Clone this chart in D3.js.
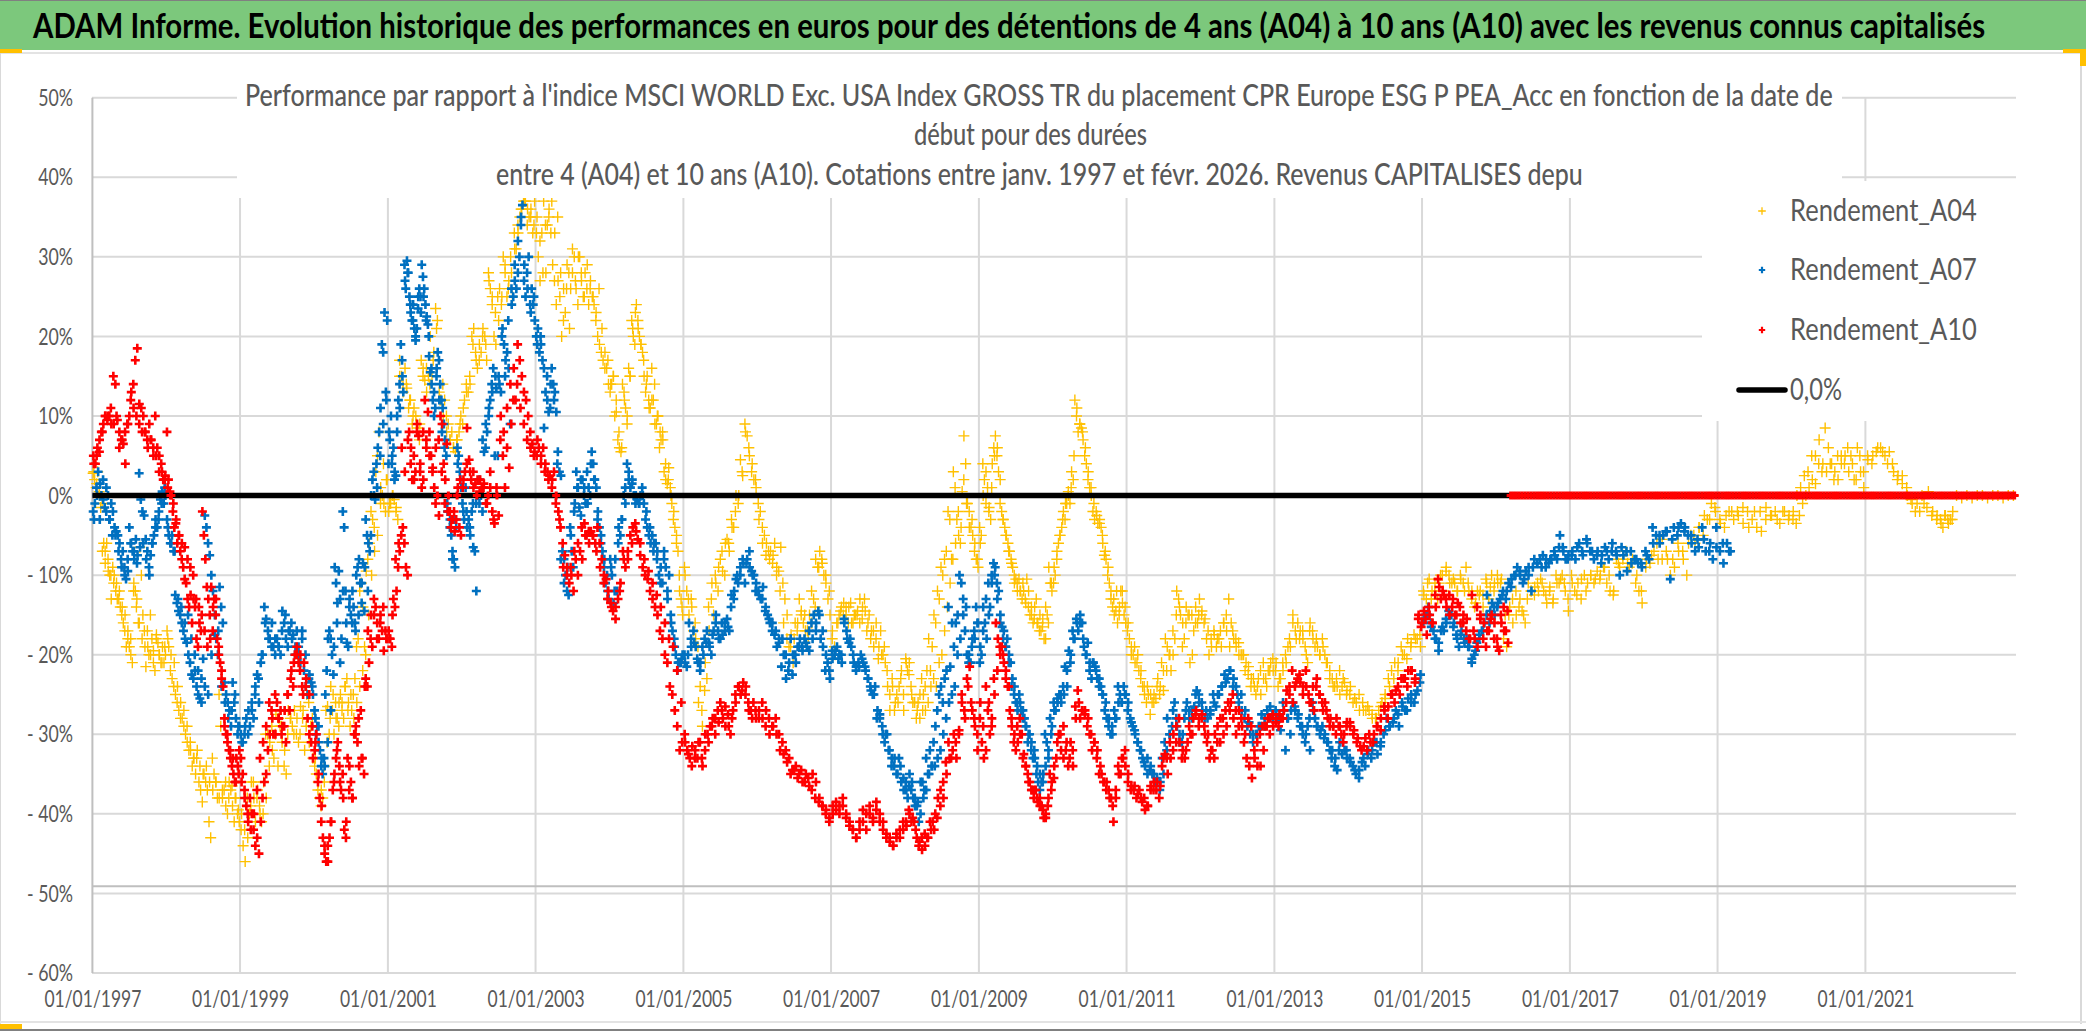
<!DOCTYPE html>
<html lang="fr"><head><meta charset="utf-8">
<script src="https://cdn.jsdelivr.net/npm/d3@7"></script>
<style>html,body{margin:0;padding:0;background:#fff}svg{display:block}text{font-family:Lato,"Noto Sans",sans-serif}</style>
</head><body><svg id="c" width="2086" height="1031"></svg>
<script>
const chartTitle="ADAM Informe. Evolution historique des performances en euros pour des détentions de 4 ans (A04) à 10 ans (A10) avec les revenus connus capitalisés";
const subtitleLines=["Performance par rapport à l'indice MSCI WORLD Exc. USA Index GROSS TR  du placement CPR Europe ESG P PEA_Acc en fonction de la date de","début pour des durées","entre 4 (A04) et 10 ans (A10). Cotations entre janv. 1997 et févr. 2026. Revenus CAPITALISES depu"];
const yTicks=[50,40,30,20,10,0,-10,-20,-30,-40,-50,-60];
const xTickYears=[1997,1999,2001,2003,2005,2007,2009,2011,2013,2015,2017,2019,2021];
const seriesNames=["Rendement_A04","Rendement_A07","Rendement_A10"];
const zeroLabel="0,0%";
const zeroLineSpan=[1997,2023.04];

// Each row holds the values read along one period, in time order.
const a04Starts=[1997,1998,1999,2000,2001,2002,2003,2004,2005,2006,2007,2008,2009,2010,2011,2012,2013,2014,2015,2016,2017,2018,2019,2020,2021,2022,2022.2,2023.04];
const a04Rows=[
[2.8,2,1,3,0.5,-1.5,-1,-6,-8.5,-6,-9.5,-10,-13,-9,-10,-12,-13,-13,-14,-15,-16,-17,-19,-18,-19,-20,-21,-11,-12,-13,-16,-6.5,-10,-15,-17,-21.5,-17,-20,-15,-18,-21,-22,-17.5,-18.5,-20,-21,-19,-21,-20],
[-17,-19,-22,-23,-24,-25,-26,-27,-28,-28,-29,-30,-31,-32,-32,-34,-33,-35,-32,-36,-37,-38.5,-35,-36,-37,-41,-43,-33,-35,-36,-38,-25,-29,-38,-37,-39,-40,-36,-37,-39,-41,-38,-40,-41],
[-42,-44,-46,-38,-40,-36,-36,-41,-37,-39,-41,-36,-30,-30,-31,-29,-33,-27.5,-34,-29,-31,-34,-35,-27,-28,-29,-27,-30,-31,-26.5,-28,-32,-25,-26,-29,-33],
[-34,-35,-37,-38,-39,-38,-36,-27,-26.5,-30,-24,-27,-30,-26,-28,-29,-25,-26,-28,-24,-23,-26,-29,-27,-25,-23,-19,-18,-12,-11,-14,-19,-9.5,-8,-6,-2,-3,-4,3,5,8,1,0,-1,-2,2],
[-2,-1,0,-0.5,-2,-3,17,15,13,16,13.5,11,12,9,11,10,8.5,7,17,15,14.5,13,15,20,15,18,23.5,22,13,12,14,12,10,9,7,8,6,5.5,7,8,10],
[9,12,14,13,14,20,21,18,16,17,18,21,20,17,28,26,24,20,19,25,26,24,30,28,25,27,30,25,33,31,33,35,36,37,37,34,35,36,33,37],
[33,30,27,33,37,34,34,36,33,29,27,24,27,25,20,22,23,29,28,26,31,30,26,24,30,27,25,28,26,24,27,25,24,22,20,19,18,17,16,16,14],
[13,14,15,10,10.5,7,6,5.5,14,13,11,9,16,15,22,20,19,24,22,20,19,18,15,13,15,12,11,16,12,9,9,10,6,7,8,3,2,1.5,3.5,1,-1,-3,-4,-6,-7,-12,-13,-15],
[-9,-12,-15,-13,-17,-18,-19,-24,-29,-24.5,-23,-17,-13,-15,-11,-12,-8,-9.5,-10,-5.5,-7,-3,-4,0,-1,4.5,2.5,9,7.5,5,3,2,1],
[-1,-2,-4,-5,-6,-7,-7,-8.5,-6,-9,-9.5,-6.5,-11,-13,-18,-19,-17.5,-21,-16,-17,-13,-14.5,-16,-17,-17,-15,-12,-13,-8,-9,-7,-8,-10,-11,-13,-15],
[-18,-19,-16,-15,-14,-13.5,-15,-16,-13.5,-16,-15,-14.5,-13,-15.5,-13,-17,-15,-17,-19,-18,-20.5,-17,-20,-21,-24,-27,-23,-27,-25,-24,-22,-27],
[-20.5,-22,-21,-24,-26,-26,-28,-26,-28,-23,-25,-24,-22,-18,-22,-19,-15,-16,-12,-13,-9,-10,-8,-7,-2,-3,-8,3,1,-3,-5,-6,0.5,7.5,4,-1,-2,-4,-5,-7,-8,-9],
[-4,-5,4,2,-1,1,-1.5,-3,4,6,7.5,5,3,-1,-2,-3,-4,-5,-6,-7,-8,-9,-10,-10.5,-12,-10.5,-12,-13,-12,-13,-10.5,-14,-15,-15,-16,-14,-13,-16,-17,-17,-16.5,-18,-14,-15,-9,-11,-12],
[-11,-10,-8,-6,-5,-4,-2,-3,-1,0.5,-1,3,2,12,10,8,9,8.5,7,5,4,2,1,0,-2,-3,-2,-3.5,-3.5,-4,-6,-7.5,-8,-10,-11,-13,-14,-15,-14.5,-16,-15,-12,-13.5,-15,-16],
[-17,-18,-20,-20,-21,-21,-22,-23,-24,-25,-26,-25,-27.5,-26,-25,-25.5,-23,-25,-21,-22,-18,-19,-20,-22,-17,-18,-12,-13,-15,-19,-18,-14,-15,-21,-15,-17,-14,-16,-13],
[-15,-16,-18,-20,-19,-17,-19,-18,-19,-16,-15,-13,-16,-18,-19,-18.5,-20,-20,-21,-21.5,-24,-23,-25,-23,-25,-21,-23,-22,-21,-22],
[-22,-24,-23,-22,-20,-19,-19,-15,-17,-16,-17,-17,-19,-21,-16,-17,-19,-19,-20,-18,-20,-21,-23,-23,-24,-24,-22,-24,-23.5,-24.5],
[-25,-26,-26,-27,-26,-27,-27,-28,-28,-27,-26,-25.5,-23,-22,-21,-22,-19,-20,-18,-19,-17.5,-18,-19],
[-12,-13,-10.5,-12,-12,-13,-10,-12,-9,-10,-11,-11,-12,-10,-11,-9,-12,-13,-14,-12,-12,-14,-10.5,-13,-10,-11],
[-10,-11,-18,-19,-14,-16,-12,-14,-14.5,-16,-11,-12,-12.5,-11,-10.5,-12,-13.5,-11.5,-13.5,-10,-11,-10,-12,-14.5],
[-10,-12,-11,-13,-10,-11,-10,-11,-9.5,-10,-9,-11,-12,-12.5,-8,-9,-8,-7,-9,-8,-11,-12,-13.5],
[-9,-8.5,-7,-8,-5.5,-7,-10,-9,-7,-7,-10,-5,-6,-4,-5,-3,-1,-2],
[-3,-4,-2,-3,-2.5,-1.5,-2,-3,-4,-4.5,-1.5,-2.5,-2,-3.5,-2,-2.5],
[-3,-3.5,-2.5,-1,0,1,2,1.5,4,3,8.5,6,4,3,2,5,4,6,5,2,6,3,1],
[5,4,5.5,6,5,5.5,3,2.5,2.5,1,-0.5,-2,-2,-1,0.5,-2,-2.5],
[-3,-4,-2.5,-3,-3,-2],
[0,-0.3,0,-0.3,0,0,-0.3,0,0,-0.3,0,0]
];
const a04More=[
[3,1.5,0,-7,-7,-8,-10,-11,-11,-12,-14,-15,-17,-18,-12,-14,-16,-18,-19,-19,-20,-19.5,-18,-20,-21,-19],
[-18,-20,-21,-24,-26,-27,-29,-31,-33,-33,-34,-35,-34,-36,-37,-36,-38,-37,-36,-38,-36.5,-38,-39.5],
[-40,-42,-43,-39,-38,-38,-40,-40,-38,-34,-32,-30,-28,-29,-32,-30,-28,-30,-28,-30,-27,-29,-31,-28],
[-33,-36,-37,-34,-31,-28,-25,-28,-26,-27,-24,-27,-25,-28,-26,-24,-22,-20,-15,-10,-7,-5,-1,4,2],
[-1,0,-1.5,15,14,14,12,10,9,9,16,16,14,17,21,12,10,8,7,6,7,9],
[11,13,15,19,17,19,20,19,27,25,23,22,25,29,26,28,31,34,36,37,36,35,34],
[35,32,28,28,35,37,33,35,28,26,26,21,28,27,30,28,25,29,26,25,23,26,21,18,17],
[14,15,12,8,6,12,10,15,21,23,21,19,17,14,11,12,14,10,8,7,4,2,0,-2,-5,-10,-14],
[-10,-13,-14,-16,-26,-27,-21,-14,-11,-10,-9,-7,-6,-6,-4,-2,0,3,8,6,4,2],
[-3,-6,-7.5,-8,-7.5,-10,-12,-16,-15,-19,-18,-16,-15,-15,-18,-16,-14,-9,-8.5,-10,-12],
[-17,-20,-16,-14.5,-15,-14,-14,-16,-15,-15,-16,-14,-14.5,-16,-18,-17,-16,-19,-20,-19,-22,-25,-24,-26,-26,-23,-25],
[-21,-22.5,-25,-26,-27,-25,-27,-27,-26,-24,-23,-24,-21,-20,-17,-14,-11,-8,-6,-2,-4,2,-1,-4,-3,-6,-8],
[-6,0,3,-2,1,5,6,2,-3,-5,-7,-8.5,-11,-11,-12,-11,-13.5,-12,-14,-15.5,-16,-15,-15.5,-18,-16,-11],
[-9,-7,-5,-3,-1,0,1,5,11,9,8,6,3,1,-1,-2.5,-3,-5,-7,-9,-12,-13,-12,-14,-12,-14],
[-16,-19,-19,-20,-22,-24,-24,-25,-26,-24,-24,-24.5,-22,-20,-20,-15,-14,-16,-16,-15,-20,-16,-15],
[-14.5,-15.5,-17,-18,-17.5,-18,-17,-16,-17,-19,-17,-18,-20,-20,-22,-22.5,-23,-24,-24,-22,-23,-24,-22,-20.5],
[-21,-23,-21,-21,-18,-16,-18,-18,-18,-20,-17,-18,-18,-20,-19,-21,-22,-24,-23,-25,-23,-25],
[-24,-25.5,-25,-27,-26.5,-27.5,-28,-26.5,-25,-24,-23,-21,-20,-20.5,-18.5,-18,-17.5],
[-12.5,-11,-13,-11,-11,-10,-9.5,-11,-10.5,-12,-10.5,-12,-11,-12,-13.5,-12.5,-12.5,-11,-11.5,-12],
[-11,-10.5,-15,-15,-13,-15,-13,-15,-13,-12,-11.5,-12,-11,-12.5,-12,-13,-11,-10.5,-11,-13],
[-11,-12.5,-10.5,-12,-10,-10.5,-10.5,-9,-10,-12,-8.5,-7.5,-8.5,-8.5,-10,-12],
[-8,-7.5,-6,-8,-8,-8,-6,-8,-6,-5,-4,-2.5,-3,-1.5],
[-3.5,-2.5,-2,-2,-3.5,-4,-2,-2,-3,-2.5,-3,-2,-3],
[-2,0,1,2.5,3,5,5,7,4,3,4,2,5,4,5,3,4,2,5,3],
[4.5,5,6,5.5,4,4,2,1.5,0,-1,-1,0,-1.5,-2.5,-3],
[-3.5,-2.5,-3.5,-3]
];

const a07Starts=[1997,1998,1999,2000,2001,2002,2003,2004,2005,2006,2007,2008,2009,2010,2011,2012,2013,2014,2015,2016,2017,2018,2019.2];
const a07Rows=[
[-2,-1,1,3,-3,0,2,-1.5,1,0,-3,-1,-2,-4,-4.5,-5,-6,-8,-7,-9,-10.5,-8,-4,-6,-7,-8,-5.5,-7.5,2.8,-0.5,-2,-2.5,-5.5,-7,-9,-7.5,-6,-5,-3,-4,-2,-0.5,0.5,-1,0],
[-3,-5,-6,-5,-7,-12.5,-13.5,-14.5,-15,-16,-17,-18,-18.5,-20,-21,-22.5,-23,-22,-24,-25,-25.5,-26,-20.5,-2.5,-4,-6,-7.5,-10,-12,-17.5,-18,-20,-11.5,-14,-16,-23.5,-25,-26,-27,-29,-23.5,-26,-28,-30,-29],
[-30,-31,-30,-28,-30,-29,-26,-28,-24,-22.5,-26,-21,-20,-14,-15.5,-17,-18,-19,-19,-20,-18,-19,-20,-14.5,-16,-18,-19,-17,-16,-17.5,-20,-17,-19,-21,-17,-22,-24,-25,-22.5,-23.5,-25],
[-27,-30,-29,-31,-32,-34,-35,-33,-25,-22,-18,-17,-18,-20,-22.5,-9,-11,-13.5,-9.5,-13,-18,-2,-4,-12,-18.5,-19,-13,-15,-16,-14,-16,-10,-9,-8,-11,-13.5,-8.5,-14.5,-3,-5,-6,-7,0,2,3,-0.5,4,6,8,11,19,18,23,13,22],
[4,7,10,5,6,3,2.5,10,12,14,19,17,13,29,26,29.5,28,25,23,22,24,21,19.5,21,23.5,26,25,29,27.5,26,24,22.5,21.5,17.5,15.5,14,12,10,11,15,18,17,14,12,11,9,7,5,-2,-2,-3,-5,-7,-8,-9,-4,6,5,3,1],
[-1,-3,1,-4,-3,-5,-2,-6.5,-7,-12,0,-1,0,-2,5.5,6,8,10,12,14,16,5,13.5,5,14,13,21,19,17,18,16,9,24,25,27,26,28,30,34,36.5,27,25,28,30,24,26,24,22],
[20,21,18,19,17,8.5,13,15,10.5,11,16,14,13,10.5,5.5,3,2.5,-7,-8,-10,-12,-12.5,-4,-7,-9,-1,3,1,-1.5,-2.5,2,0,-1,3,1,0,5.5,4,2,1,-2,-4,-6,-7,-9,-11,-10,-13],
[-8,-10,-13.5,-8,-12,-4,-5,-3,0,-1,4,3,1,1.5,0,-1,-0.5,-1,0,1,-1,-3,-4,-5,-6,-5,-6,-6,-7,-10,-9,-11,-7,-9,-12,-10,-15,-17,-18,-20,-22,-21,-21,-20],
[-20,-21.5,-16,-19,-17,-19,-21,-22,-19,-18,-17,-18.5,-20,-17,-15,-17,-18,-17.5,-16,-15.5,-17,-12.5,-13,-10.5,-11,-9,-8,-11,-8,-7,-9.5,-10,-11],
[-12,-13,-11.5,-14.5,-15,-16,-17,-17.5,-19,-18.5,-21.5,-20,-23,-22,-18,-20,-20,-19,-18,-19,-18,-19,-17,-16,-15,-16,-14.5,-18,-19,-22,-21,-23],
[-19.5,-20,-19,-20,-21,-15.5,-17,-18.5,-19,-21,-22,-21,-20,-21,-22,-23,-24,-25,-24,-27,-27.5,-29,-31,-30,-32,-33,-34,-35,-33,-36,-37],
[-36,-38,-35,-37,-38,-39,-39,-41,-36,-36,-37,-33,-35,-32,-34,-31,-29,-27,-25,-24,-26,-23,-22,-14,-21.5,-16,-19,-16,-15,-10,-11,-13,-17,-20,-21,-21,-18,-17,-14,-16],
[-21,-20,-14,-16,-18,-11,-14,-11,-8.5,-9,-11,-12,-15,-16.5,-17,-19,-18,-20,-21,-23,-25,-26,-27,-25,-27,-28,-28,-29,-31,-30,-32,-33,-33,-35,-36,-37,-36,-35,-30,-31,-33,-28,-29],
[-26,-27,-25.5,-25,-26,-24,-21.5,-22,-19.5,-20,-17,-18,-15.5,-17,-15,-16,-19,-20,-18.5,-22,-23,-21,-21.5,-23,-24,-24,-25,-27,-28,-29,-30,-30,-27,-28,-24,-25,-26,-24,-25],
[-27,-28,-29,-30,-31,-32,-33,-34,-35,-34.5,-35,-36,-36,-37,-33,-31,-28,-30,-29,-26,-29,-31,-31,-28,-26,-28,-27,-26.5,-24.5,-26],
[-26,-28,-28,-27,-25,-26.5,-25,-24,-22.5,-23,-22,-24,-24,-26,-27,-28,-29,-30,-31,-30,-29,-27.5,-29,-27,-26.5,-28],
[-27,-28,-29.5,-26,-32,-28,-30,-26,-27,-28,-29,-30,-31,-29,-32,-26,-28,-29,-30,-29,-30,-31,-32,-32,-34,-34.5,-31,-32.5,-32,-33],
[-33,-34,-35,-35.5,-33.5,-34,-32,-33,-31,-32.5,-31.5,-30,-28,-29,-28.5,-27,-29,-26,-27,-25.5,-26,-26,-24.5,-22.5],
[-16,-15,-14,-16,-17,-18,-19.5,-17,-17,-16,-14.5,-15,-16,-17.5,-19,-17,-18,-18,-19,-21,-20,-18.5,-18,-17,-16,-12.5,-16,-13.5,-15],
[-14,-13,-12,-13,-11,-10.5,-10,-9,-10,-11,-9.5,-9,-12,-8,-8.5,-8,-7.5,-9,-8.5,-8,-7,-8,-5,-6.5,-8,-7.5],
[-7.5,-8,-6,-7.5,-5.5,-7,-8,-7,-8.5,-6.5,-8,-6,-7,-10,-7.5,-9.5,-7,-8,-8.5,-9],
[-7,-8,-4,-5,-6,-5,-4.5,-10.5,-4,-5,-3.5,-4.5,-5,-6,-7,-6.5,-4,-7,-7,-8,-4,-7,-8.5,-6,-7]
];
const a07More=[
[-3,0,1.5,-0.5,-2,-3,-5,-5,-7,-9,-10,-9.5,-6,-7,-8.5,-6.5,-6,-8,-10,-6,-4,-3,-1,1],
[-4,-6,-7,-13,-14,-16,-15,-18,-20,-22,-23,-24,-25,-20,-15,-17,-24,-26,-28,-27,-25,-29],
[-31,-29,-27,-27,-25,-23,-20,-16,-18,-16,-18,-19,-17,-15,-17,-18,-19,-20,-18,-20,-23,-24],
[-28,-29,-33,-34,-31,-27,-19,-16,-21,-12,-16,-14,-12,-17,-15,-11,-9,-12,-5,0,1,5,9,12],
[8,4,2,8,11,15,27,28,24,22,20,25,23,25,22,20,16,13,16,12,8,6,-1,-4,-8,-3,4,2],
[-2,-2,-4,-1,-1,2,7,9,11,13,15,15,20,15,22,26,29,32,35,29,26,23,25],
[19,20,16,12,14,12,4,-8,-11,-9,-5,-2,1,2,1,-1,4,2,-3,-5,-8,-12],
[-9,-12,-6,-3,1,2,2,0,-1,0,-2,-4,-7,-8,-11,-8,-13,-16,-19,-21,-20.5],
[-21,-20,-18,-18.5,-20.5,-21,-20,-18.5,-19,-17.5,-16,-18,-16,-17,-16.5,-14,-12,-10,-10,-8.5,-8.5,-9,-10,-12],
[-12.5,-13,-14,-15.5,-16,-17,-18,-18,-20,-21,-22.5,-21,-19,-19.5,-18.5,-19.5,-18,-17,-15,-17,-20,-22],
[-20.5,-19.5,-20.5,-20,-16,-18,-18,-20,-21.5,-21.5,-20.5,-21.5,-23,-24.5,-25,-28,-28,-30,-30,-32,-34,-33,-35,-34,-35.5],
[-37,-36.5,-36,-38,-38.5,-40,-38,-37,-35,-34,-34,-33,-32,-30,-28,-26,-25,-24,-20,-18,-15,-14,-20,-19,-18,-16],
[-19,-17,-13,-15,-10,-10,-13,-16,-18,-19,-21,-24,-24,-26,-26,-27,-29,-30,-31,-32,-34,-35,-36,-34,-32,-30],
[-27,-26,-25,-25,-24,-21,-18,-16,-16,-18,-20,-21,-21,-22,-23,-25,-26,-28,-29,-28,-26,-26,-25],
[-26,-28.5,-29.5,-31,-32,-33.5,-33,-34,-35,-35.5,-36,-35,-32,-30,-27,-28,-30,-30,-27,-27,-28,-25,-25],
[-27,-27,-27.5,-26,-25,-24,-23.5,-22,-23,-25,-25,-27,-28.5,-30,-30,-29,-28,-28,-27.5],
[-27.5,-28,-27,-28,-27,-26.5,-27.5,-29,-30,-28,-27,-29,-29.5,-30.5,-31,-33,-33,-32,-31,-32],
[-33.5,-34.5,-34.5,-33,-32.5,-32,-31,-31,-29.5,-29,-28,-27.5,-26.5,-27,-25,-25,-23.5],
[-15.5,-15,-16.5,-18,-18.5,-16.5,-15.5,-15,-16.5,-18,-17.5,-18.5,-19,-20.5,-19.5,-17.5,-17,-15,-14.5,-14],
[-13.5,-12.5,-12,-11.5,-10,-9.5,-10.5,-10,-9,-8.5,-9,-8,-8,-7.5,-6.5,-7,-8],
[-7,-6.5,-7,-6,-7,-7.5,-7.5,-7,-7,-7.5,-6.5,-7,-8.5,-8,-8.5],
[-7.5,-6,-5,-4.5,-5.5,-4,-4,-5,-5.5,-5.5,-6,-6.5,-6,-7]
];

const a10Starts=[1997,1998,1999,2000,2001,2002,2003,2004,2005,2006,2007,2008,2009,2010,2011,2012,2013,2014,2014.93,2016,2016.18,2017,2018,2019,2020,2021,2022,2023.04];
const a10Rows=[
[5,4,6,5.5,8,9,10,9.5,10,9,15,14,9.5,6,7,6.5,4,9,10,13,14,17,18.5,11.5,11,10,8,7,9,7,6,10,6,5,4,2,2.5],
[8,2,0.5,0,-2,-4,-3.5,-6,-5,-7,-8,-9,-10.5,-11,-13,-14,-12.5,-16,-13,-14,-18,-19,-16,-17,-2,-5,-8,-11.5,-13,-15,-11.5,-17,-13,-15,-18,-19,-21,-23,-24,-29,-30,-31,-32,-33,-34,-35,-36,-33,-34,-32],
[-33,-35,-37,-39,-41,-38,-40,-42,-44,-43,-45,-41,-38,-36,-35,-32,-30,-27,-30,-25,-26,-28,-27,-29,-29,-31,-25,-27,-22,-24,-20,-19,-21,-20,-24,-21,-24,-28,-30,-31,-33],
[-32,-30,-36,-38,-41,-43,-44,-46,-46,-43,-41,-37,-35,-33,-31,-34,-37,-35,-42,-43,-33,-37,-36,-38,-30,-29,-31,-34,-27,-33,-35,-23,-24,-21,-18,-19,-13,-14,-16,-18,-15,-17,-19.5,-17,-18],
[-17,-18,-19,-13,-14,-12,-9,-7,-5,-4,-6,-9,-10,8,4,2,5,3,8,7.5,3,1,8,12,6,10.5,5,5,3.5,1,6,0,-2.5,10,9,4,2,6.5,0,-2,-3,-3,-4.5,-3,1,-4,-5],
[1,3,8.5,4.5,2,3,1.5,2,0.5,1,1.5,-1,0,3,-2,-3.5,1,-2.5,10,5,1,6,3.5,9,12,12,19,17,15,13,12,10,8,6.5,5.5],
[5,6,4,6,4,3,2.5,1,3,0,-2,-4,-6,-7.5,-9,-11,-10,-12,-8,-10,-7,-8,-3.5,-5,-4.5,-4.5,-5,-6,-4,-6,-8,-10,-10.5,-12],
[-13.5,-14.5,-15.5,-13,-11,-7,-9,-7,-5,-4,-3.5,-5.5,-7.5,-9,-10,-10.5,-12,-13,-14,-15,-17,-18,-20,-21,-24,-25,-27,-29,-32,-31],
[-30,-32,-33,-31.5,-33,-33,-31,-34,-32,-30,-29,-28,-30,-27,-26,-28,-29,-27.5,-30,-27,-26,-24,-25,-23.5,-24,-26,-27,-26,-28],
[-28,-26,-29,-28,-29,-28,-30,-31,-32,-33,-34.5,-34,-35,-36,-35,-36.5,-35,-36,-38,-39,-39.5,-40.5],
[-39,-38.5,-40,-38,-40,-41,-42,-43,-41,-39.5,-42,-39,-41,-39.5,-41,-42,-43,-43.5,-44,-42.5,-42,-41],
[-41,-39.5,-41,-41,-43,-43.5,-44.5,-42.5,-43,-41,-41,-40,-38,-37,-36,-33.5,-31,-33,-30,-33,-29.5,-25,-27,-23,-21.5,-27,-29,-32],
[-28,-31,-33,-24,-27,-30,-28,-23,-16,-18,-19,-19,-21,-23,-24,-27,-29,-31,-32,-31,-28,-30,-32.5,-34,-35,-36,-37,-38,-37,-38.5,-38,-39,-40.5,-40.5,-39,-35,-36],
[-35.5,-33,-30,-32,-29,-32,-34,-31,-34,-26.5,-24.5,-28,-27,-27.5,-29,-30,-32,-31,-33,-35,-35,-36,-37,-37,-38,-41,-38,-34,-35,-33,-34],
[-36,-37,-37,-38,-37,-38.5,-39.5,-39,-36.5,-37,-37,-38,-34,-32.5,-35,-33,-30,-31,-28,-33,-33,-31,-30,-28,-27,-28],
[-28,-29,-31,-33,-32,-30,-29,-31,-28,-27,-26,-26,-28,-30,-29,-28,-31,-33,-34,-35.5,-33,-31,-30,-29,-29,-28,-28,-29],
[-28.5,-29,-28,-27,-24.5,-25,-22,-24,-23,-23.5,-24,-22,-25,-26,-27,-23,-25,-26,-26,-28,-28,-29,-30,-29,-30,-30,-28.5],
[-28.5,-30,-31,-31.5,-31.5,-32,-31,-30,-29,-28,-26.5,-28,-25,-26,-24,-23,-23,-22,-22,-23],
[-15.5,-16.5,-14.5,-17.5,-15,-16,-12.5,-10.5,-13,-12.5,-14,-12.5,-14,-15,-13.5,-16,-15,-17,-18,-12.5,-18,-19,-15.5,-18,-19,-17,-15,-16],
[-18,-19.5,-16,-14,-17,-18.5],
[0,0,0,0,0,0,0,0,0,0,0,0,0,0,0,0,0,0,0,0,0],
[0,0,0,0,0,0,0,0,0,0,0,0,0,0,0,0,0,0,0,0,0,0,0,0,0,0],
[0,0,0,0,0,0,0,0,0,0,0,0,0,0,0,0,0,0,0,0,0,0,0,0,0,0],
[0,0,0,0,0,0,0,0,0,0,0,0,0,0,0,0,0,0,0,0,0,0,0,0,0,0],
[0,0,0,0,0,0,0,0,0,0,0,0,0,0,0,0,0,0,0,0,0,0,0,0,0,0],
[0,0,0,0,0,0,0,0,0,0,0,0,0,0,0,0,0,0,0,0,0,0,0,0,0,0],
[0,0,0,0,0,0,0,0,0,0,0,0,0,0,0,0,0,0,0,0,0,0,0,0,0,0,0,0]
];
const a10More=[
[4,5,7,8,10,10,11,9,10,8,7,8,9,12,11,10,9,8,8,6,7,5,5,3,3,2],
[1,0,-1,-3,-5,-6,-6.5,-8,-9,-10,-13,-14,-15,-17,-19,-18,-14,-13,-20,-22,-28,-30,-32,-33,-36,-35],
[-36,-38,-40,-42,-40,-37,-33,-31,-29,-26,-28,-30,-28,-30,-27,-25,-23,-21,-20,-22,-25,-23,-25,-29],
[-31,-35,-39,-45,-44,-41,-36,-32,-36,-38,-41,-34,-38,-30,-28,-33,-24,-17,-15,-15,-18,-16,-14,-18],
[-18,-15,-8,-6,6,3,7,6,2,9,4,2,7,8,3,-1,7,3,-1,-2,-4,-2,0,2],
[2,4,3,1,0,2,1,-1,1,-3,0,7,8,11,14,16,14,11,9,7,6,5],
[7,5,3,2,2,-1,-3,-9,-10,-9,-7,-6,-4,-5,-6,-5,-7,-9,-11,-13],
[-14,-14,-12,-8,-8,-6,-4.5,-6,-8,-9.5,-11,-12.5,-14,-16,-18,-19,-22,-26],
[-31,-32.5,-34,-32,-31,-33,-30,-31,-29,-28,-28.5,-27,-26.5,-29,-28,-25,-24,-24.5,-25,-27,-28,-27],
[-27,-28,-27,-30,-29,-30,-32,-32.5,-33.5,-35,-34.5,-35.5,-34.5,-36,-35.5,-37,-38,-38.5,-39,-40,-41],
[-40,-39.5,-39,-39,-40.5,-41.5,-42,-43,-42,-41,-40,-40,-40.5,-38.5,-40,-41,-42.5,-43,-44,-43,-43,-42],
[-41.5,-40,-40.5,-42,-44,-43,-44,-43,-42,-42,-40.5,-39,-38,-35,-33,-32,-31,-30,-26,-28,-24,-26,-28,-30],
[-26,-29,-32,-26,-29,-25,-22,-20,-20,-22,-24,-28,-30,-29,-30,-33,-34,-36,-37,-37,-38,-39,-39.5,-40,-38,-37],
[-34,-31,-30,-33,-31,-33,-32,-28,-26,-27,-27,-28,-30,-31,-32,-34,-36,-36,-38,-39,-37,-35,-33,-32],
[-35,-36.5,-36.5,-37.5,-38,-38,-39,-37,-36,-36,-36.5,-33,-33,-31,-32,-29,-31,-32,-32,-29,-30,-27.5,-29],
[-27.5,-30,-30,-32,-33,-31,-28,-30,-29,-27,-25,-27,-27,-29,-30,-28,-29,-32,-34,-34,-32,-29,-30,-27.5],
[-28,-27.5,-28,-26,-24,-26,-23.5,-22.5,-25,-24,-26,-24,-24,-25,-27,-27,-29,-29,-28,-29,-31,-29],
[-29,-29.5,-30.5,-32,-30.5,-30,-31,-29,-29.5,-27,-26.5,-25,-24.5,-25,-23,-24,-22,-23.5],
[-15,-16,-15.5,-14,-16,-14,-11.5,-12,-13,-15,-13,-15,-14,-16,-15.5,-18,-17,-14,-15,-16,-17,-15.5,-18],
[-19,-15,-17,-14.5]
];

const svg=d3.select("#c");
const toDate=y=>{const f=Math.floor(y);const a=Date.UTC(f,0,1),b=Date.UTC(f+1,0,1);return new Date(a+(y-f)*(b-a));};
const x=d3.scaleUtc().domain([toDate(1997),toDate(2023.04)]).range([92.4,2016]);
const y=d3.scaleLinear().domain([50,-60]).range([97.7,973]);
const TEXT="#595959",GRID="#D9D9D9",AXIS="#BFBFBF";
// squeeze a text horizontally to a target width; left edge at px
const fitAt=(sel,px,py,w)=>sel.each(function(){const n=this.getComputedTextLength();d3.select(this).attr("transform",`translate(${px},${py}) scale(${w/n},1)`);});
const expand=(starts,rows)=>rows.flatMap((r,i)=>r.map((v,j)=>({t:toDate(starts[i]+(j+0.5)/r.length*(starts[i+1]-starts[i])),v})));

// frame
svg.append("rect").attr("x",0).attr("y",0).attr("width",2086).attr("height",50).attr("fill","#7CC87C");
svg.append("rect").attr("x",0).attr("y",0).attr("width",2086).attr("height",1).attr("fill","#808080");
svg.append("rect").attr("x",0).attr("y",52).attr("width",2086).attr("height",2).attr("fill","#E3E3E3");
svg.append("rect").attr("x",0).attr("y",50).attr("width",1).attr("height",980).attr("fill","#D9D9D9");
svg.append("rect").attr("x",2080).attr("y",54).attr("width",2).attr("height",970).attr("fill","#D9D9D9");
svg.append("rect").attr("x",0).attr("y",1021).attr("width",2086).attr("height",2).attr("fill","#E3E3E3");
svg.append("rect").attr("x",0).attr("y",1029).attr("width",2086).attr("height",2).attr("fill","#808080");
[[0,49,22,4],[2063,49,23,4],[2080,50,6,16],[0,1024,22,5]].forEach(r=>svg.append("rect").attr("x",r[0]).attr("y",r[1]).attr("width",r[2]).attr("height",r[3]).attr("fill","#FFC000"));
svg.append("text").attr("font-size",34).attr("font-weight",700).attr("fill","#000").text(chartTitle).call(fitAt,33,38,1953);

// grid and axes
const gridTimes=xTickYears.map(toDate);
svg.append("g").selectAll("line").data(yTicks).join("line").attr("x1",92).attr("x2",2016).attr("y1",d=>y(d)).attr("y2",d=>y(d)).attr("stroke",GRID).attr("stroke-width",2);
svg.append("g").selectAll("line").data(gridTimes.slice(1)).join("line").attr("x1",d=>x(d)).attr("x2",d=>x(d)).attr("y1",y(50)).attr("y2",y(-60)).attr("stroke",GRID).attr("stroke-width",2);
svg.append("line").attr("x1",92.4).attr("x2",92.4).attr("y1",y(50)).attr("y2",y(-60)).attr("stroke",AXIS).attr("stroke-width",2);
svg.append("line").attr("x1",92).attr("x2",2016).attr("y1",y(-49.1)).attr("y2",y(-49.1)).attr("stroke",AXIS).attr("stroke-width",2);

const yAxis=svg.append("g").attr("transform","translate(73,0)").call(d3.axisLeft(y).tickValues(yTicks).tickSize(0).tickPadding(0).tickFormat(d=>d<0?`- ${-d}%`:`${d}%`));
yAxis.select(".domain").remove();
yAxis.selectAll("text").attr("font-size",24).attr("fill",TEXT).style("font-family","Lato").attr("text-anchor","start").attr("x",0)
  .each(function(d){const n=this.getComputedTextLength();const k=d<0?0.74:0.74;d3.select(this).attr("transform",`translate(${-n*k},0) scale(${k},1)`);});
const xAxis=svg.append("g").attr("transform","translate(0,990)").call(d3.axisBottom(x).tickValues(gridTimes).tickSize(0).tickPadding(0).tickFormat(d3.utcFormat("%d/%m/%Y")));
xAxis.select(".domain").remove();
xAxis.selectAll("text").attr("font-size",24).attr("fill",TEXT).style("font-family","Lato").attr("text-anchor","start").attr("x",0)
  .each(function(){const n=this.getComputedTextLength();d3.select(this).attr("transform",`translate(-48.5,0) scale(${97/n},1)`);});

// marks
const plus=s=>`M${-s} 0H${s}M0 ${-s}V${s}`;
const COLORS=["#FFC000","#0070C0","#FF0000"];
const draw=(data,color,s,w)=>svg.append("g").selectAll("path").data(data).join("path")
  .attr("d",plus(s)).attr("transform",d=>`translate(${x(d.t)},${y(d.v)})`).attr("fill","none").attr("stroke",color).attr("stroke-width",w);
const a10Pts=expand(a10Starts,a10Rows).concat(expand(a10Starts,a10More));
draw(expand(a04Starts,a04Rows).concat(expand(a04Starts,a04More)),COLORS[0],5.5,1.4);
draw(expand(a07Starts,a07Rows).concat(expand(a07Starts,a07More)),COLORS[1],4.5,2.6);
draw(a10Pts.filter(d=>d.v!==0),COLORS[2],4.5,2.6);
const zeroLine=d3.line().x(d=>x(toDate(d))).y(()=>y(0));
svg.append("path").attr("d",zeroLine(zeroLineSpan)).attr("stroke","#000").attr("stroke-width",5.5).attr("fill","none");
draw(a10Pts.filter(d=>d.v===0),COLORS[2],4,3);

// boxes over grid (title box clips the marks as in the source)
svg.append("rect").attr("x",237).attr("y",90).attr("width",1605).attr("height",108).attr("fill","#fff");
svg.append("rect").attr("x",1702).attr("y",181).attr("width",316).attr("height",240).attr("fill","#fff");

// subtitle
const subX=[[245,1589],[914,233],[496,1087]], subY=[106,145,185];
subtitleLines.forEach((t,i)=>svg.append("text").attr("font-size",30).attr("font-weight",500).attr("fill",TEXT).text(t).call(fitAt,subX[i][0],subY[i],subX[i][1]));

// legend
const legY=[211,270,330];
seriesNames.forEach((n,i)=>{
  const g=svg.append("g");
  g.append("path").attr("d",plus(i?3.2:3.8)).attr("transform",`translate(1762,${legY[i]})`).attr("fill","none").attr("stroke",COLORS[i]).attr("stroke-width",i?2.2:1.3);
  g.append("text").attr("font-size",30).attr("fill",TEXT).text(n).call(fitAt,1790,legY[i]+10,187);
});
svg.append("line").attr("x1",1739).attr("x2",1785).attr("y1",390).attr("y2",390).attr("stroke","#000").attr("stroke-width",5.5).attr("stroke-linecap","round");
svg.append("text").attr("font-size",30).attr("fill",TEXT).text(zeroLabel).call(fitAt,1790,400,52);
</script></body></html>
